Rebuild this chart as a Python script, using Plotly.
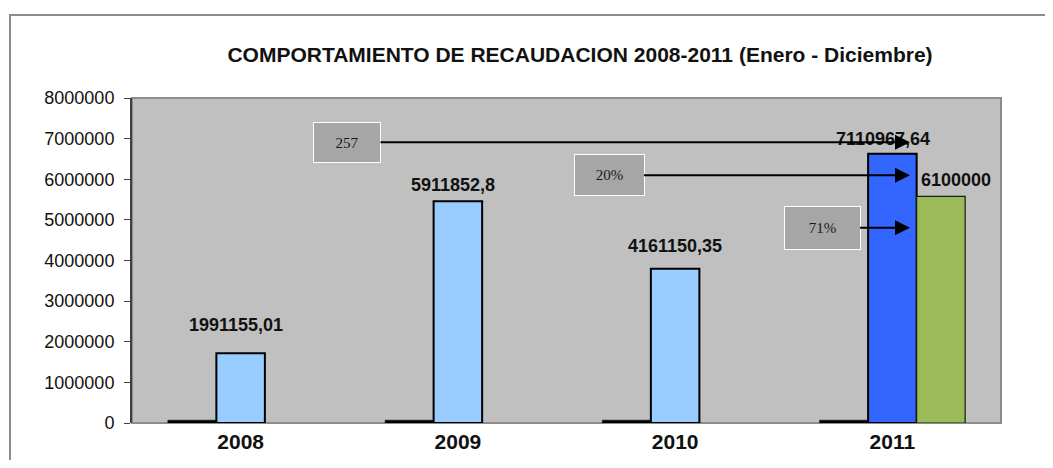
import plotly.graph_objects as go

# ---- data ----
years = ["2008", "2009", "2010", "2011"]
zero_series = [0, 0, 0, 0]
recaudacion = [1720000, 5460000, 3800000, 6630000]      # bar heights as drawn
meta_2011 = [None, None, None, 5580000]                   # green bar (2011 only)
recaudacion_labels = ["1991155,01", "5911852,8", "4161150,35", "7110967,64"]
meta_labels = [None, None, None, "6100000"]
box_texts = ["257", "20%", "71%"]
box_arrow_values = [6909000, 6097000, 4807000]            # heights the arrows point at

# ---- styles ----
FONT = "Arial, Liberation Sans, sans-serif"
SERIF = "Times New Roman, Liberation Serif, serif"
ZERO_THICK = 70000
blue_colors = ["#99ccff", "#99ccff", "#99ccff", "#3366ff"]

OFF = 8  # page body margin
W, H = 1053 - 2 * OFF, 468 - 2 * OFF
# plot area in screen pixels: x 132..1001, y 98..423
L, T = 132 - OFF, 98 - OFF
R, B = W - (1001 - OFF), H - (423 - OFF)
PW, PH = W - L - R, H - T - B

def px_x(p):  # screen px -> paper x
    return (p - OFF - L) / PW

def px_y(p):  # screen px -> paper y
    return (H - B - (p - OFF)) / PH

fig = go.Figure()
fig.add_trace(go.Bar(
    x=years, y=[v + ZERO_THICK for v in zero_series],
    marker=dict(color="#000000", line=dict(color="#000000", width=0.5)),
    hoverinfo="skip", showlegend=False))
fig.add_trace(go.Bar(
    x=years, y=recaudacion,
    marker=dict(color=blue_colors, line=dict(color="#000000", width=2)),
    showlegend=False))
fig.add_trace(go.Bar(
    x=years, y=meta_2011,
    marker=dict(color="#9bbb59", line=dict(color="#1a1a1a", width=1.2)),
    showlegend=False))

annotations = []
label_xshift = [-5, -5, 0, -9]
label_yshift = [16, 4, 11, 3]
for i, (v, t) in enumerate(zip(recaudacion, recaudacion_labels)):
    annotations.append(dict(x=i, y=v, xref="x", yref="y", text=t, showarrow=False,
                            yanchor="bottom", xshift=label_xshift[i], yshift=label_yshift[i],
                            font=dict(family=FONT, size=18, color="#111111", weight="bold")))
for i, (v, t) in enumerate(zip(meta_2011, meta_labels)):
    if v is not None:
        annotations.append(dict(x=i, y=v, xref="x", yref="y", text=t, showarrow=False,
                                yanchor="bottom", xshift=64, yshift=4,
                                font=dict(family=FONT, size=18, color="#111111", weight="bold")))

box_ax = [-563, -301, -88]
box_w = [66, 69, 75]
box_h = [39, 40, 42]
box_text_shift = ["&#8203;257&nbsp;", "20%&nbsp;", "71%&nbsp;&nbsp;&nbsp;"]
for t, v, ax, bw, bh in zip(box_texts, box_arrow_values, box_ax, box_w, box_h):
    annotations.append(dict(
        x=px_x(910), y=v, xref="paper", yref="y", text=t,
        showarrow=True, ax=ax, ay=0, axref="pixel", ayref="pixel",
        arrowhead=2, arrowwidth=2, arrowsize=1.5, arrowcolor="#000000",
        bgcolor="#a6a6a6", bordercolor="#ffffff", borderwidth=1, borderpad=0,
        width=bw, height=bh, font=dict(family=SERIF, size=15, color="#1a1a1a")))

fig.update_layout(
    width=W, height=H, autosize=False,
    margin=dict(l=L, r=R, t=T, b=B, pad=0, autoexpand=False),
    paper_bgcolor="#ffffff", plot_bgcolor="#c0c0c0",
    barmode="group", bargap=0.33, bargroupgap=0,
    title=dict(text="<b>COMPORTAMIENTO DE RECAUDACION 2008-2011 (Enero - Diciembre)</b>",
               x=(580 - OFF) / W, xref="container", xanchor="center",
               y=1 - (55 - OFF) / H, yref="container", yanchor="middle",
               font=dict(family=FONT, size=21, color="#111111")),
    annotations=annotations,
    shapes=[
        dict(type="rect", xref="paper", yref="paper", x0=0, x1=1, y0=0, y1=1,
             line=dict(color="#8c8c8c", width=2), layer="below"),
        dict(type="rect", xref="paper", yref="paper",
             x0=px_x(10), x1=px_x(1075), y0=px_y(495), y1=px_y(15),
             line=dict(color="#8c8c8c", width=2), layer="below"),
    ],
)
fig.update_xaxes(type="category", showline=False, ticks="", showgrid=False,
                 tickfont=dict(family=FONT, size=21, color="#111111", weight="bold"),
                 ticklabelstandoff=4)
fig.update_yaxes(range=[0, 8000000], dtick=1000000, tickformat="d", showgrid=False,
                 zeroline=False, showline=True, linecolor="#404040", linewidth=2,
                 ticks="outside", ticklen=6, tickcolor="#404040", tickwidth=1,
                 ticklabelstandoff=6,
                 tickfont=dict(family=FONT, size=18, color="#111111"))

fig.write_html("out.html")
